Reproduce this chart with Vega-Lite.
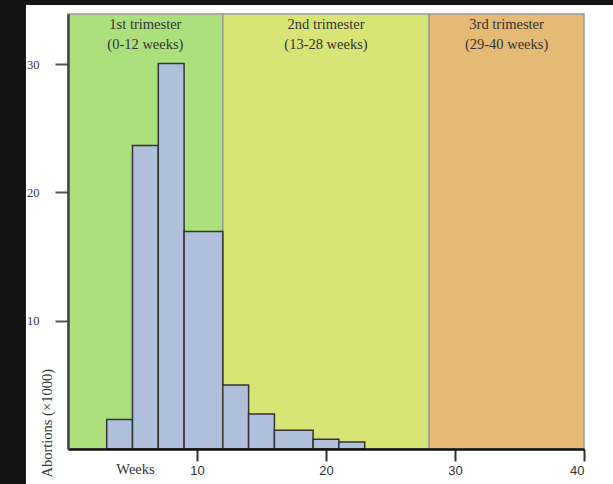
{
  "$schema": "https://vega.github.io/schema/vega-lite/v6.json",
  "width": 516,
  "height": 435,
  "autosize": {"type": "none"},
  "padding": {"left": 68, "top": 14, "right": 29, "bottom": 35},
  "background": "#141414",
  "config": {"view": {"stroke": null}},
  "datasets": {
    "bands": [
      {"start": 0, "end": 12, "mid": 6, "trimester": "1st", "label": ["1st trimester", "(0-12 weeks)"]},
      {"start": 12, "end": 28, "mid": 20, "trimester": "2nd", "label": ["2nd trimester", "(13-28 weeks)"]},
      {"start": 28, "end": 40, "mid": 34, "trimester": "3rd", "label": ["3rd trimester", "(29-40 weeks)"]}
    ],
    "hist": [
      {"bin_start": 3, "bin_end": 5, "abortions": 2.3},
      {"bin_start": 5, "bin_end": 7, "abortions": 23.65},
      {"bin_start": 7, "bin_end": 9, "abortions": 30.05},
      {"bin_start": 9, "bin_end": 12, "abortions": 16.95},
      {"bin_start": 12, "bin_end": 14, "abortions": 4.98},
      {"bin_start": 14, "bin_end": 16, "abortions": 2.73},
      {"bin_start": 16, "bin_end": 19, "abortions": 1.46},
      {"bin_start": 19, "bin_end": 21, "abortions": 0.76},
      {"bin_start": 21, "bin_end": 23, "abortions": 0.55}
    ]
  },
  "layer": [
    {
      "data": {"values": [{}]},
      "mark": {"type": "rect", "fill": "#ffffff", "clip": false},
      "encoding": {
        "x": {"datum": -3.26, "type": "quantitative", "scale": {"domain": [0, 40], "nice": false, "zero": false}},
        "x2": {"datum": 43},
        "y": {"datum": -3, "type": "quantitative", "scale": {"domain": [0, 33.9], "nice": false, "zero": false}},
        "y2": {"datum": 34.6}
      }
    },
    {
      "data": {"name": "bands"},
      "mark": {"type": "rect", "stroke": "#9a9a9a", "strokeWidth": 1.5},
      "encoding": {
        "x": {"field": "start", "type": "quantitative"},
        "x2": {"field": "end"},
        "y": {"datum": 0, "type": "quantitative"},
        "y2": {"datum": 33.9},
        "fill": {
          "field": "trimester",
          "type": "nominal",
          "scale": {"domain": ["1st", "2nd", "3rd"], "range": ["#abe07d", "#d9e476", "#e4ba74"]},
          "legend": null
        }
      }
    },
    {
      "data": {"name": "bands"},
      "mark": {"type": "text", "font": "Liberation Serif", "fontSize": 14.5, "color": "#333333", "baseline": "top", "align": "center", "lineHeight": 20, "dy": 4},
      "encoding": {
        "x": {"field": "mid", "type": "quantitative"},
        "y": {"datum": 33.9, "type": "quantitative"},
        "text": {"field": "label"}
      }
    },
    {
      "data": {"name": "hist"},
      "mark": {"type": "rect", "fill": "#b1c0da", "stroke": "#333333", "strokeWidth": 1.5},
      "encoding": {
        "x": {
          "field": "bin_start",
          "type": "quantitative",
          "axis": {
            "values": [10, 20, 30, 40],
            "zindex": 2,
            "domainColor": "#111111",
            "domainWidth": 2.5,
            "tickColor": "#333333",
            "tickWidth": 2,
            "tickSize": 12,
            "labelFont": "Liberation Sans",
            "labelFontSize": 13,
            "labelColor": "#333333",
            "labelPadding": 3,
            "grid": false,
            "title": "Weeks",
            "titleFont": "Liberation Serif",
            "titleFontSize": 14.5,
            "titleFontWeight": "normal",
            "titleColor": "#333333",
            "titleX": 67,
            "titleY": 20,
            "titleAlign": "center",
            "titleBaseline": "middle"
          }
        },
        "x2": {"field": "bin_end"},
        "y": {
          "field": "abortions",
          "type": "quantitative",
          "axis": {
            "values": [10, 20, 30],
            "zindex": 2,
            "domainColor": "#444444",
            "domainWidth": 2.5,
            "tickColor": "#555555",
            "tickWidth": 2,
            "tickSize": 13,
            "labelFont": "Liberation Serif",
            "labelFontSize": 12.5,
            "labelColor": "#333333",
            "labelPadding": 16,
            "grid": false,
            "title": "Abortions (×1000)",
            "titleFont": "Liberation Serif",
            "titleFontSize": 14.5,
            "titleFontWeight": "normal",
            "titleColor": "#333333",
            "titleAngle": -90,
            "titleX": -21,
            "titleY": 463,
            "titleAlign": "left",
            "titleBaseline": "middle"
          }
        },
        "y2": {"datum": 0}
      }
    }
  ]
}
